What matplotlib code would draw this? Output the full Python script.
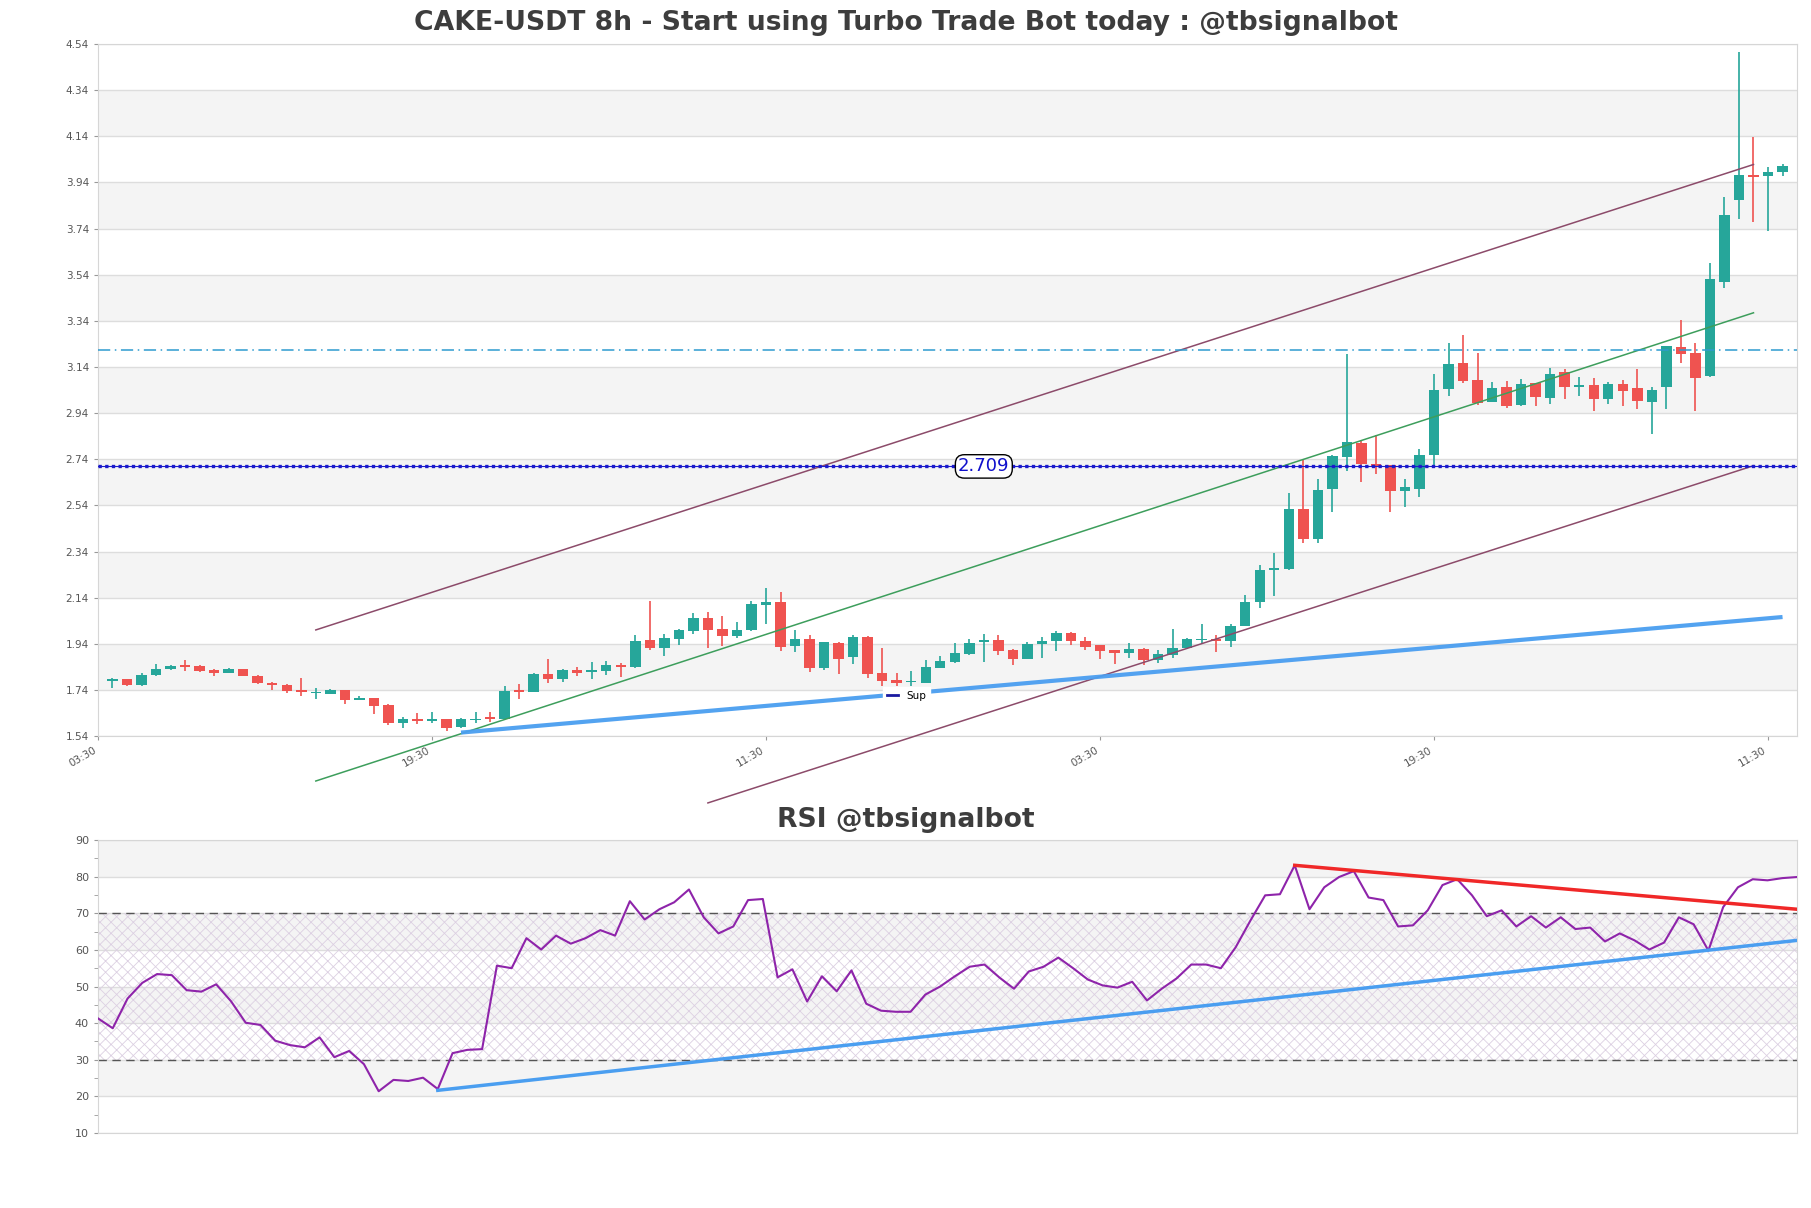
import numpy as np
import matplotlib
matplotlib.use("Agg")
import matplotlib.pyplot as plt
from matplotlib.lines import Line2D

plt.rcParams['font.family'] = ['DejaVu Sans']
plt.rcParams['hatch.linewidth'] = 0.6

# 8h candles, CAKE-USDT
opens = [1.777, 1.787, 1.763, 1.805, 1.829, 1.847, 1.843, 1.826, 1.815, 1.831,
         1.800, 1.770, 1.761, 1.739, 1.725, 1.724, 1.739, 1.698, 1.704, 1.674,
         1.597, 1.614, 1.605, 1.613, 1.578, 1.608, 1.624, 1.616, 1.741, 1.733,
         1.811, 1.789, 1.828, 1.816, 1.823, 1.848, 1.838, 1.957, 1.920, 1.962,
         1.995, 2.050, 2.002, 1.973, 1.999, 2.108, 2.120, 1.930, 1.962, 1.836,
         1.944, 1.881, 1.970, 1.814, 1.783, 1.773, 1.771, 1.836, 1.860, 1.897,
         1.947, 1.957, 1.915, 1.875, 1.937, 1.950, 1.988, 1.953, 1.933, 1.912,
         1.902, 1.918, 1.868, 1.892, 1.922, 1.958, 1.962, 1.954, 2.016, 2.123,
         2.260, 2.265, 2.525, 2.395, 2.612, 2.750, 2.812, 2.720, 2.713, 2.601,
         2.612, 2.757, 3.043, 3.159, 3.085, 2.990, 3.052, 2.975, 3.069, 3.006,
         3.117, 3.053, 3.060, 3.001, 3.065, 3.048, 2.990, 3.053, 3.228, 3.199,
         3.101, 3.508, 3.863, 3.973, 3.969, 3.986]
highs = [1.791, 1.789, 1.815, 1.853, 1.846, 1.868, 1.846, 1.830, 1.834, 1.832,
         1.805, 1.773, 1.765, 1.793, 1.750, 1.745, 1.741, 1.715, 1.707, 1.677,
         1.622, 1.641, 1.645, 1.616, 1.620, 1.645, 1.645, 1.757, 1.765, 1.813,
         1.876, 1.830, 1.838, 1.862, 1.866, 1.856, 1.978, 2.126, 1.981, 2.003,
         2.072, 2.076, 2.062, 2.033, 2.126, 2.180, 2.166, 2.000, 1.979, 1.948,
         1.946, 1.976, 1.972, 1.923, 1.812, 1.820, 1.870, 1.885, 1.944, 1.962,
         1.983, 1.979, 1.918, 1.949, 1.969, 1.997, 1.990, 1.969, 1.935, 1.915,
         1.943, 1.920, 1.911, 2.005, 1.966, 2.027, 1.976, 2.025, 2.152, 2.283,
         2.335, 2.595, 2.735, 2.656, 2.757, 3.198, 2.822, 2.844, 2.715, 2.656,
         2.786, 3.111, 3.246, 3.280, 3.200, 3.075, 3.080, 3.087, 3.071, 3.134,
         3.130, 3.098, 3.094, 3.076, 3.082, 3.130, 3.055, 3.232, 3.343, 3.243,
         3.592, 3.878, 4.506, 4.138, 4.008, 4.018]
lows = [1.750, 1.759, 1.757, 1.800, 1.827, 1.820, 1.817, 1.800, 1.812, 1.800,
        1.765, 1.738, 1.725, 1.712, 1.700, 1.721, 1.680, 1.697, 1.637, 1.587,
        1.574, 1.594, 1.597, 1.560, 1.575, 1.595, 1.600, 1.612, 1.700, 1.731,
        1.772, 1.775, 1.800, 1.786, 1.806, 1.794, 1.834, 1.913, 1.885, 1.934,
        1.982, 1.923, 1.932, 1.965, 1.995, 2.024, 1.908, 1.905, 1.817, 1.827,
        1.810, 1.853, 1.792, 1.759, 1.759, 1.759, 1.770, 1.834, 1.855, 1.893,
        1.860, 1.892, 1.846, 1.873, 1.879, 1.907, 1.933, 1.915, 1.872, 1.853,
        1.878, 1.846, 1.855, 1.878, 1.918, 1.940, 1.904, 1.925, 2.016, 2.094,
        2.149, 2.258, 2.375, 2.378, 2.511, 2.689, 2.641, 2.677, 2.511, 2.533,
        2.576, 2.706, 3.014, 3.070, 2.977, 2.988, 2.964, 2.972, 2.971, 2.980,
        3.001, 3.014, 2.949, 2.980, 2.971, 2.958, 2.848, 2.958, 3.159, 2.951,
        3.098, 3.484, 3.780, 3.768, 3.729, 3.967]
closes = [1.787, 1.763, 1.805, 1.831, 1.843, 1.841, 1.820, 1.815, 1.831, 1.802,
          1.768, 1.761, 1.736, 1.730, 1.728, 1.741, 1.697, 1.706, 1.671, 1.598,
          1.613, 1.605, 1.614, 1.576, 1.616, 1.614, 1.615, 1.737, 1.733, 1.811,
          1.789, 1.828, 1.814, 1.828, 1.850, 1.839, 1.953, 1.920, 1.963, 1.999,
          2.050, 2.000, 1.975, 1.998, 2.111, 2.120, 1.926, 1.959, 1.837, 1.946,
          1.875, 1.970, 1.810, 1.780, 1.772, 1.778, 1.840, 1.866, 1.902, 1.944,
          1.957, 1.910, 1.875, 1.941, 1.954, 1.988, 1.953, 1.924, 1.907, 1.901,
          1.918, 1.868, 1.897, 1.921, 1.962, 1.962, 1.953, 2.019, 2.121, 2.261,
          2.270, 2.525, 2.395, 2.608, 2.752, 2.815, 2.720, 2.710, 2.601, 2.619,
          2.760, 3.042, 3.154, 3.078, 2.985, 3.049, 2.971, 3.065, 3.011, 3.108,
          3.053, 3.060, 3.001, 3.065, 3.036, 2.993, 3.040, 3.230, 3.198, 3.091,
          3.520, 3.801, 3.972, 3.965, 3.986, 4.011]

rsi = [41.3, 38.6, 46.7, 51.0, 53.4, 53.1, 49.0, 48.6, 50.6, 46.0,
       40.1, 39.5, 35.2, 34.0, 33.4, 36.1, 30.7, 32.4, 28.8, 21.4,
       24.5, 24.2, 25.1, 22.0, 31.8, 32.7, 32.9, 55.7, 55.0, 63.2,
       60.1, 63.9, 61.7, 63.2, 65.4, 63.9, 73.3, 68.3, 71.1, 73.0,
       76.5, 68.9, 64.5, 66.4, 73.6, 73.9, 52.5, 54.7, 45.9, 52.8,
       48.7, 54.4, 45.3, 43.4, 43.1, 43.1, 47.8, 50.0, 52.8, 55.4,
       56.0, 52.5, 49.4, 54.1, 55.4, 57.9, 55.0, 51.9, 50.3, 49.7,
       51.3, 46.2, 49.4, 52.2, 56.0, 56.0, 55.0, 60.7, 68.0, 74.9,
       75.2, 83.1, 71.1, 77.1, 79.9, 81.5, 74.3, 73.6, 66.4, 66.7,
       70.8, 77.7, 79.3, 74.9, 69.2, 70.8, 66.4, 69.2, 66.1, 68.9,
       65.7, 66.1, 62.3, 64.5, 62.6, 60.1, 62.0, 68.9, 67.0, 59.8,
       71.7, 77.1, 79.3, 79.0, 79.6, 79.9]

xtick_pos = [-1, 22, 45, 68, 91, 114]
xtick_labels = ['03:30', '19:30', '11:30', '03:30', '19:30', '11:30']

# channel and trend lines: (x0, x1), (y0, y1)
chan_top = ([14, 113], [2.000, 4.018])
chan_mid = ([14, 113], [1.345, 3.375])
chan_low = ([41, 113], [1.250, 2.712])
sup_line = ([24, 115], [1.555, 2.056])
sup_level = 2.709
res_level = 3.213
rsi_res = ([81, 115], [83.1, 71.1])
rsi_sup = ([23, 115], [21.65, 62.6])

up_col = '#26a69a'
down_col = '#ef5350'

fig = plt.figure(figsize=(18.11, 12.08), dpi=100)
ax = fig.add_axes([0.0541, 0.3907, 0.9382, 0.5728])
ax2 = fig.add_axes([0.0541, 0.0621, 0.9382, 0.2425])

# ---- price chart
ylo, yhi = 1.54, 4.54
yt = np.round(np.arange(ylo, yhi + 0.001, 0.2), 2)
for k in range(len(yt) - 1):
    if k % 2 == 1:
        ax.axhspan(yt[k], yt[k + 1], color='#f4f4f4', lw=0, zorder=0)
for v in yt:
    ax.axhline(v, color='#dddddd', lw=1, zorder=0.5)

o = np.array(opens); h = np.array(highs); l = np.array(lows); c = np.array(closes)
x = np.arange(len(o))
cols = [up_col if cc >= oo else down_col for oo, cc in zip(o, c)]
ax.vlines(x, l, h, colors=cols, lw=1.2, zorder=3)
body = np.maximum(np.abs(c - o), 0.004)
ax.bar(x, body, bottom=np.minimum(o, c), width=0.72, color=cols, lw=0, zorder=4)

ax.plot(*chan_top, color='#8c4b6a', lw=1.1, zorder=5, clip_on=False)
ax.plot(*chan_mid, color='#3d9e5c', lw=1.1, zorder=5, clip_on=False)
ax.plot(*chan_low, color='#8c4b6a', lw=1.1, zorder=5, clip_on=False)
ax.plot(*sup_line, color='#4a9ef0', lw=3, alpha=0.95, zorder=5, solid_capstyle='butt')

ax.axhline(sup_level, color='#1a1acc', lw=2.4, ls=(0, (1, 1)), zorder=6)
ax.axhline(sup_level, color='#1a1acc', lw=0.8, zorder=6)
ax.axhline(res_level, color='#2e9bcf', lw=1.1, ls=(0, (8, 3, 1, 3)), zorder=6)
ax.text(60, sup_level, '%.3f' % sup_level, color='#1010cc', fontsize=13,
        ha='center', va='center', zorder=8,
        bbox=dict(boxstyle='round,pad=0.15,rounding_size=0.5', fc='white', ec='black', lw=1))

leg = ax.legend([Line2D([0], [0], color='#1a1aa0', lw=2)], ['Sup'],
                loc='center', bbox_to_anchor=(0.476, 0.058), fontsize=7.5,
                handlelength=1.0, frameon=True, fancybox=False, borderpad=0.4,
                handletextpad=0.8)
leg.get_frame().set_edgecolor('white')
leg.get_frame().set_alpha(1)
leg.set_zorder(9)

ax.set_xlim(-1, 116)
ax.set_ylim(ylo, yhi)
ax.set_yticks(yt)
ax.set_yticklabels(['%.2f' % v for v in yt])
ax.set_xticks(xtick_pos)
ax.set_xticklabels(xtick_labels, rotation=30, ha='right')
ax.tick_params(axis='both', labelsize=7.5, labelcolor='#555555', color='#999999', length=3)
for s in ax.spines.values():
    s.set_color('#d6d6d6')

fig.text(0.5, 0.981, 'CAKE-USDT 8h - Start using Turbo Trade Bot today : @tbsignalbot',
         ha='center', va='center', fontsize=19.2, fontweight='bold', color='#3d3d3d')

# ---- RSI
rx = np.arange(len(rsi))
for a, b in [(20, 30), (40, 50), (60, 70), (80, 90)]:
    ax2.axhspan(a, b, color='#f4f4f4', lw=0, zorder=0)
for v in range(10, 91, 10):
    ax2.axhline(v, color='#dddddd', lw=1, zorder=0.5)
ax2.fill_between([0, len(rsi) - 1], 30, 70, facecolor='none', edgecolor='#dcd0e2',
                 hatch='xxx', lw=0, zorder=1)
ax2.axhline(70, color='#555555', lw=1, ls=(0, (6, 4)), zorder=2)
ax2.axhline(30, color='#555555', lw=1, ls=(0, (6, 4)), zorder=2)
ax2.plot(rx, rsi, color='#8e24aa', lw=1.5, zorder=4)
ax2.plot(*rsi_res, color='#f02828', lw=2.5, zorder=5)
ax2.plot(*rsi_sup, color='#4a9ef0', lw=2.5, zorder=5)

ax2.set_xlim(0, len(rsi) - 1)
ax2.set_ylim(10, 90)
ax2.set_yticks(range(10, 91, 10))
ax2.set_yticks(range(15, 90, 10), minor=True)
ax2.set_xticks([])
ax2.tick_params(axis='y', which='both', labelsize=8, labelcolor='#555555', color='#999999', length=3)
for s in ax2.spines.values():
    s.set_color('#d6d6d6')

fig.text(0.5, 0.321, 'RSI @tbsignalbot', ha='center', va='center',
         fontsize=19.2, fontweight='bold', color='#3d3d3d')

fig.savefig('out.png', dpi=100, facecolor='white')
